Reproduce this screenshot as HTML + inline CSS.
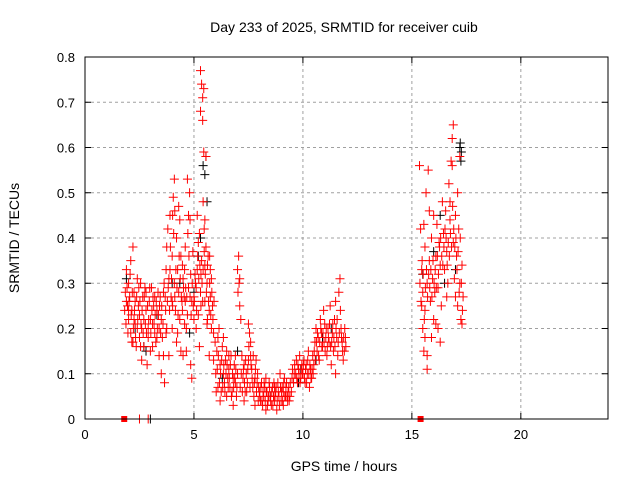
<!DOCTYPE html>
<html><head><meta charset="utf-8"><style>
html,body{margin:0;padding:0;background:#fff;}
svg{display:block;font-family:"Liberation Sans",sans-serif;}
</style></head><body>
<svg id="chart" width="640" height="480" viewBox="0 0 640 480">
<text x="344" y="32" font-size="14" text-anchor="middle" fill="#000">Day 233 of 2025, SRMTID for receiver cuib</text>
<text x="344" y="471" font-size="14" text-anchor="middle" fill="#000">GPS time / hours</text>
<text transform="translate(19,238) rotate(-90)" font-size="14" text-anchor="middle" fill="#000">SRMTID / TECUs</text>
<g id="grid"></g>
<g id="ticks"></g>
<g id="black"></g>
<g id="red"></g>
<rect x="85" y="57" width="523" height="362" fill="none" stroke="#000" stroke-width="1"/>
</svg>
<script>
const xTicks=[0,5,10,15,20];
const yTicks=[0,0.1,0.2,0.3,0.4,0.5,0.6,0.7,0.8];
const yTickLabels=["0","0.1","0.2","0.3","0.4","0.5","0.6","0.7","0.8"];
const redTimes=[1.85,1.9,1.95,2.0,2.0,2.05,2.1,2.1,2.15,2.2,2.2,2.25,2.3,2.3,2.35,2.4,2.45,2.5,2.5,2.55,2.6,2.65,2.7,2.7,2.75,2.8,2.85,2.9,2.95,3.0,3.0,3.05,3.1,3.15,3.2,3.25,3.3,3.35,3.4,3.45,3.5,3.5,2.4,2.0,1.9,2.6,2.9,3.2,3.4,
3.55,3.6,3.6,3.65,3.7,3.75,3.75,3.8,3.85,3.85,3.9,3.95,4.0,4.0,4.05,4.1,4.1,4.15,4.2,4.2,4.25,4.3,4.35,4.35,4.4,4.45,4.5,4.5,4.55,4.6,4.65,4.7,4.7,4.75,4.75,4.8,4.85,4.85,4.9,4.9,4.95,5.0,5.0,4.3,4.0,3.9,4.6,4.4,
5.1,5.1,5.15,5.2,5.25,5.3,5.3,5.35,5.4,5.4,5.45,5.45,5.35,5.4,5.5,5.5,5.55,5.6,5.6,5.65,5.7,5.7,5.75,5.75,5.8,5.8,5.85,5.9,5.9,5.3,5.2,5.15,5.55,5.5,5.25,5.05,
6.0,6.05,6.1,6.15,6.2,6.25,6.3,6.35,6.4,6.45,6.5,6.55,6.6,6.65,6.7,6.75,6.8,6.85,6.9,6.95,7.0,7.0,7.05,7.1,7.1,7.15,7.2,7.25,7.3,7.35,7.4,7.45,7.5,7.5,7.55,7.6,7.65,7.7,7.75,7.8,7.85,7.9,7.95,6.2,6.5,6.8,7.3,6.1,
8.0,8.05,8.1,8.15,8.2,8.25,8.3,8.35,8.4,8.45,8.5,8.55,8.6,8.65,8.7,8.75,8.8,8.85,8.9,8.95,9.0,9.05,9.1,9.15,9.2,9.25,9.3,9.35,9.4,9.5,9.6,9.7,9.75,9.8,9.85,9.9,9.95,8.3,8.7,9.1,
10.0,10.05,10.1,10.15,10.2,10.25,10.3,10.35,10.4,10.45,10.5,10.55,10.6,10.65,10.7,10.75,10.8,10.85,10.9,10.95,11.0,11.05,11.1,11.15,11.2,11.25,11.3,11.35,11.4,11.45,11.5,11.55,11.6,11.65,11.7,11.75,11.8,11.85,11.9,11.95,11.5,
15.35,15.4,15.45,15.5,15.5,15.55,15.6,15.6,15.65,15.7,15.7,15.75,15.8,15.85,15.9,15.95,16.0,16.0,16.05,16.1,16.15,16.2,16.25,16.3,16.35,16.4,16.45,16.5,16.55,16.6,16.65,16.7,16.75,16.8,16.85,16.9,16.9,16.95,17.0,17.05,17.1,17.1,17.15,17.2,17.25,17.3,17.35,15.9,16.2,16.6,17.2,15.45,
2.5,2.9];
const redValues=[0.28,0.33,0.25,0.22,0.3,0.27,0.35,0.19,0.24,0.17,0.38,0.28,0.21,0.26,0.16,0.2,0.25,0.23,0.18,0.3,0.2,0.27,0.22,0.16,0.29,0.24,0.12,0.2,0.26,0.22,0.15,0.29,0.21,0.25,0.19,0.17,0.24,0.28,0.2,0.27,0.1,0.22,0.31,0.24,0.26,0.13,0.18,0.27,0.14,
0.18,0.28,0.14,0.08,0.24,0.2,0.38,0.42,0.31,0.14,0.45,0.27,0.36,0.2,0.49,0.53,0.3,0.24,0.4,0.17,0.33,0.28,0.44,0.22,0.36,0.26,0.31,0.14,0.27,0.38,0.2,0.23,0.53,0.45,0.29,0.5,0.32,0.12,0.26,0.09,0.37,0.27,0.22,0.47,0.26,0.33,0.26,0.15,
0.2,0.29,0.33,0.39,0.41,0.68,0.77,0.74,0.71,0.66,0.73,0.59,0.35,0.26,0.34,0.44,0.38,0.3,0.21,0.36,0.24,0.14,0.33,0.27,0.2,0.31,0.25,0.13,0.19,0.28,0.23,0.45,0.58,0.26,0.16,0.32,
0.1,0.15,0.07,0.2,0.12,0.06,0.16,0.1,0.08,0.13,0.05,0.09,0.11,0.07,0.14,0.06,0.09,0.12,0.08,0.05,0.1,0.33,0.36,0.31,0.25,0.22,0.14,0.09,0.12,0.06,0.1,0.08,0.13,0.21,0.19,0.17,0.11,0.07,0.05,0.09,0.13,0.08,0.04,0.04,0.15,0.03,0.04,0.18,
0.06,0.04,0.08,0.03,0.05,0.07,0.02,0.06,0.04,0.08,0.05,0.03,0.07,0.05,0.04,0.06,0.02,0.08,0.05,0.1,0.04,0.07,0.06,0.09,0.05,0.08,0.04,0.07,0.05,0.09,0.1,0.13,0.08,0.11,0.14,0.09,0.12,0.09,0.07,0.03,
0.1,0.13,0.08,0.12,0.1,0.15,0.07,0.11,0.09,0.14,0.12,0.17,0.2,0.15,0.18,0.13,0.22,0.19,0.16,0.24,0.21,0.18,0.14,0.2,0.17,0.25,0.12,0.19,0.15,0.22,0.26,0.18,0.14,0.28,0.31,0.2,0.17,0.13,0.15,0.18,0.1,
0.56,0.42,0.33,0.2,0.28,0.15,0.38,0.24,0.5,0.3,0.11,0.55,0.35,0.26,0.4,0.31,0.22,0.45,0.28,0.36,0.43,0.29,0.39,0.34,0.25,0.48,0.41,0.33,0.46,0.37,0.3,0.52,0.44,0.57,0.62,0.65,0.39,0.31,0.45,0.36,0.25,0.5,0.42,0.3,0.22,0.34,0.27,0.18,0.2,0.27,0.58,0.25,
0,0];
const redTimesExtra=[1.82,1.88,1.93,1.97,2.02,2.07,2.12,2.17,2.22,2.27,2.32,2.37,2.42,2.47,2.52,2.57,2.62,2.67,2.72,2.77,2.82,2.87,2.92,2.97,3.02,3.07,3.12,3.17,3.22,3.27,3.32,3.37,3.42,3.47,2.15,2.55,3.1,2.25,2.8,3.3,
3.52,3.58,3.63,3.68,3.72,3.78,3.82,3.88,3.92,3.97,4.02,4.07,4.12,4.17,4.22,4.27,4.32,4.37,4.42,4.47,4.52,4.57,4.62,4.67,4.72,4.77,4.82,4.87,4.92,4.97,4.02,4.12,4.47,4.57,4.82,3.72,4.25,4.65,
5.02,5.07,5.12,5.17,5.22,5.27,5.32,5.37,5.42,5.47,5.52,5.57,5.62,5.67,5.72,5.77,5.82,5.87,5.92,5.97,5.42,5.47,5.32,5.62,5.72,
6.02,6.07,6.12,6.17,6.22,6.27,6.32,6.37,6.42,6.47,6.52,6.57,6.62,6.67,6.72,6.77,6.82,6.87,6.92,6.97,7.02,7.07,7.12,7.17,7.22,7.27,7.32,7.37,7.42,7.47,7.52,7.57,7.62,7.67,7.72,7.77,7.82,7.87,7.92,7.97,6.35,6.6,6.9,7.6,7.8,
8.02,8.07,8.12,8.17,8.22,8.27,8.32,8.37,8.42,8.47,8.52,8.57,8.62,8.67,8.72,8.77,8.82,8.87,8.92,8.97,9.02,9.07,9.12,9.17,9.22,9.27,9.32,9.37,9.42,9.47,9.52,9.57,9.62,9.67,9.72,9.77,9.82,9.87,9.92,9.97,
10.02,10.07,10.12,10.17,10.22,10.27,10.32,10.37,10.42,10.47,10.52,10.57,10.62,10.67,10.72,10.77,10.82,10.87,10.92,10.97,11.02,11.07,11.12,11.17,11.22,11.27,11.32,11.37,11.42,11.47,11.52,11.57,11.62,11.67,11.72,11.77,11.82,11.87,11.92,11.97,
15.37,15.42,15.47,15.52,15.57,15.62,15.67,15.72,15.77,15.82,15.87,15.92,15.97,16.02,16.07,16.12,16.17,16.22,16.27,16.32,16.37,16.42,16.47,16.52,16.57,16.62,16.67,16.72,16.77,16.82,16.87,16.92,16.97,17.02,17.07,17.12,17.17,17.22,17.27,17.32,15.55,15.8,16.1,16.75,16.85,17.0,17.3,15.6,15.7,16.3];
const redValuesExtra=[0.24,0.21,0.29,0.19,0.26,0.32,0.23,0.28,0.2,0.24,0.18,0.27,0.22,0.29,0.26,0.21,0.24,0.19,0.27,0.21,0.19,0.25,0.22,0.29,0.19,0.24,0.27,0.21,0.23,0.26,0.2,0.23,0.25,0.19,0.17,0.16,0.16,0.22,0.28,0.18,
0.25,0.21,0.3,0.27,0.33,0.26,0.29,0.24,0.38,0.31,0.25,0.41,0.27,0.33,0.29,0.23,0.36,0.31,0.27,0.24,0.29,0.33,0.29,0.27,0.41,0.36,0.27,0.23,0.3,0.25,0.45,0.46,0.34,0.21,0.44,0.19,0.19,0.15,
0.26,0.3,0.24,0.36,0.31,0.34,0.32,0.3,0.33,0.37,0.32,0.28,0.34,0.26,0.3,0.23,0.28,0.22,0.26,0.17,0.48,0.42,0.25,0.22,0.36,
0.06,0.11,0.14,0.08,0.1,0.13,0.07,0.12,0.06,0.1,0.12,0.07,0.09,0.12,0.05,0.1,0.07,0.09,0.11,0.07,0.28,0.3,0.07,0.1,0.06,0.11,0.08,0.13,0.06,0.11,0.16,0.07,0.12,0.09,0.14,0.08,0.11,0.06,0.1,0.07,0.18,0.14,0.14,0.14,0.03,
0.05,0.07,0.04,0.06,0.08,0.04,0.06,0.03,0.05,0.07,0.04,0.06,0.03,0.08,0.05,0.07,0.04,0.06,0.03,0.07,0.06,0.04,0.08,0.05,0.07,0.05,0.06,0.04,0.08,0.06,0.11,0.08,0.12,0.1,0.09,0.12,0.1,0.08,0.11,0.1,
0.12,0.09,0.11,0.08,0.13,0.1,0.12,0.09,0.11,0.1,0.15,0.13,0.17,0.19,0.14,0.17,0.2,0.16,0.19,0.17,0.15,0.2,0.16,0.18,0.21,0.16,0.17,0.21,0.18,0.16,0.2,0.22,0.17,0.19,0.24,0.18,0.15,0.18,0.2,0.16,
0.3,0.26,0.35,0.32,0.22,0.29,0.33,0.27,0.32,0.29,0.33,0.27,0.35,0.3,0.33,0.29,0.36,0.32,0.38,0.4,0.36,0.34,0.38,0.42,0.4,0.34,0.39,0.36,0.41,0.38,0.47,0.42,0.38,0.4,0.33,0.37,0.28,0.4,0.3,0.24,0.43,0.46,0.21,0.48,0.56,0.27,0.21,0.18,0.14,0.17];
const blackTimes=[1.9,2.3,2.8,3.3,4.0,4.8,5.0,5.5,5.6,5.2,6.3,7.0,8.5,9.8,10.6,11.3,15.5,16.3,17.2,17.25,17.0,16.0,3.0,5.55,5.42,17.22,17.27,5.3,4.35,2.7,9.9,10.9,16.5];
const blackValues=[0.31,0.2,0.15,0.23,0.3,0.19,0.28,0.54,0.48,0.36,0.09,0.15,0.05,0.08,0.13,0.2,0.32,0.45,0.6,0.57,0.33,0.37,0,0.58,0.56,0.61,0.59,0.4,0.3,0.16,0.11,0.18,0.3];
const squareTimes=[1.8,15.4];
const squareValues=[0,0];

const NS='http://www.w3.org/2000/svg';
const X0=85,X1=608,Y0=419,Y1=57,XMAX=24,YMAX=0.8;
function xs(t){return X0+(X1-X0)*t/XMAX;}
function ys(v){return Y0-(Y0-Y1)*v/YMAX;}
function mk(tag,attrs,parent){const e=document.createElementNS(NS,tag);for(const k in attrs)e.setAttribute(k,attrs[k]);parent.appendChild(e);return e;}
const grid=document.getElementById('grid'),ticks=document.getElementById('ticks');
xTicks.forEach(t=>{const x=xs(t);
 if(t>0){const g=mk('line',{x1:x,x2:x,y1:Y1,y2:Y0,stroke:'#a0a0a0','stroke-dasharray':'3,3'},grid);
 
 }
 mk('line',{x1:x,x2:x,y1:Y0,y2:Y0-6,stroke:'#000'},ticks);
 mk('line',{x1:x,x2:x,y1:Y1,y2:Y1+6,stroke:'#000'},ticks);
 const l=mk('text',{x:x,y:Y0+20,'font-size':13,'text-anchor':'middle'},ticks);l.textContent=String(t);
 
 
});
yTicks.forEach((v,i)=>{const y=ys(v);
 if(v>0&&v<YMAX){const g=mk('line',{x1:X0,x2:X1,y1:y,y2:y,stroke:'#a0a0a0','stroke-dasharray':'3,3'},grid);
 
 }
 mk('line',{x1:X0,x2:X0+6,y1:y,y2:y,stroke:'#000'},ticks);
 mk('line',{x1:X1,x2:X1-6,y1:y,y2:y,stroke:'#000'},ticks);
 const l=mk('text',{x:X0-10,y:y+5,'font-size':13,'text-anchor':'end'},ticks);l.textContent=yTickLabels[i];
 
 
});
function plus(g,t,v,c){const x=xs(t),y=ys(v);
 const p=mk('path',{d:`M${x-4.5} ${y}H${x+4.5}M${x} ${y-4.5}V${y+4.5}`,stroke:c,'stroke-width':1,fill:'none'},g);
 
 
}
const bg=document.getElementById('black'),rg=document.getElementById('red');
blackTimes.forEach((t,i)=>plus(bg,t,blackValues[i],'#000'));
redTimes.forEach((t,i)=>plus(rg,t,redValues[i],'#f00'));
redTimesExtra.forEach((t,i)=>plus(rg,t,redValuesExtra[i],'#f00'));
squareTimes.forEach((t,i)=>{const r=mk('rect',{x:xs(t)-3,y:ys(squareValues[i])-3,width:6,height:6,fill:'#f00'},rg);
 
 });
</script>
</body></html>
